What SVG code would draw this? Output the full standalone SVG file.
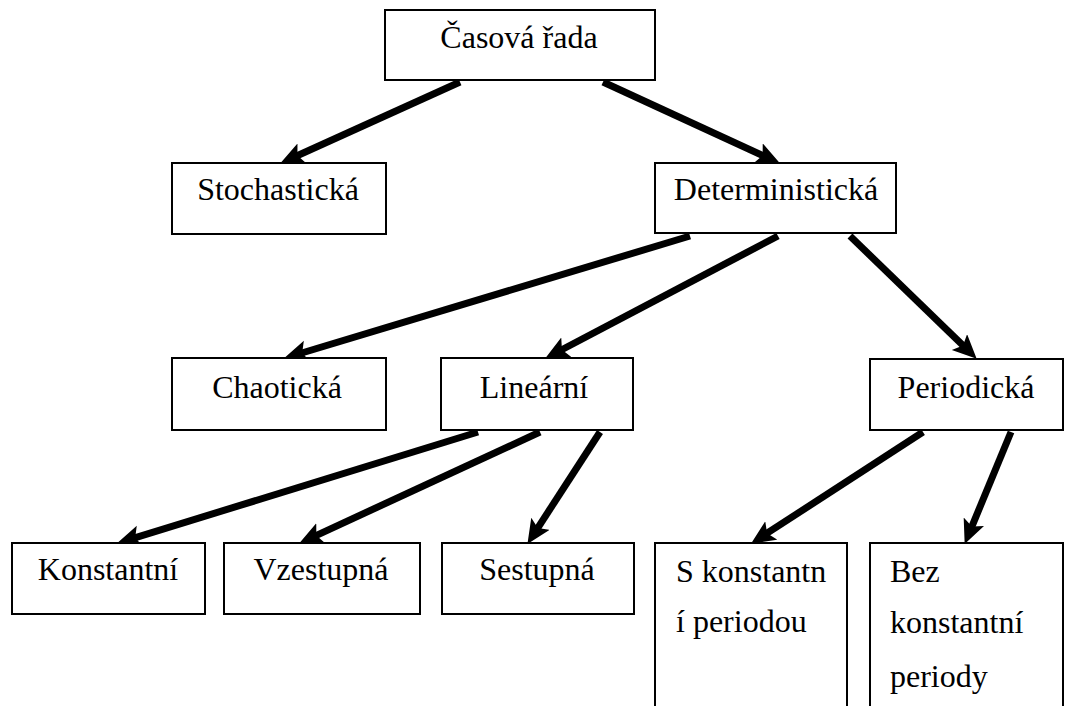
<svg xmlns="http://www.w3.org/2000/svg" width="1066" height="706" viewBox="0 0 1066 706">
<style>
.box{fill:#fff;stroke:#000;stroke-width:2}
.t{font-family:"Liberation Serif","Times New Roman",serif;font-size:32px;fill:#000}
.c{text-anchor:middle}
.a{stroke:#000;stroke-width:7;fill:none;marker-end:url(#ah)}
</style>
<defs>
<marker id="ah" markerUnits="userSpaceOnUse" markerWidth="26" markerHeight="24" refX="9" refY="11" orient="auto">
<path d="M0,0 L24,11 L0,22 L5,11 Z" fill="#000"/>
</marker>
</defs>
<rect width="1066" height="706" fill="#fff"/>
<g id="connectors">
<line class="a" x1="460" y1="82" x2="293.8" y2="157.2"/>
<line class="a" x1="603" y1="82" x2="766.3" y2="157.1"/>
<line class="a" x1="690" y1="236" x2="298.4" y2="354"/>
<line class="a" x1="778" y1="236" x2="558.4" y2="351.5"/>
<line class="a" x1="850" y1="236" x2="965.9" y2="348.3"/>
<line class="a" x1="478" y1="432" x2="131.4" y2="538.9"/>
<line class="a" x1="540" y1="432" x2="312.7" y2="537.1"/>
<line class="a" x1="600" y1="432" x2="535.6" y2="531.3"/>
<line class="a" x1="923" y1="432" x2="763.7" y2="535.4"/>
<line class="a" x1="1011" y1="432" x2="970.4" y2="530.1"/>
</g>
<g id="casova-rada"><rect class="box" x="385" y="10" width="270" height="70"/><text class="t c" x="519" y="48">Časová řada</text></g>
<g id="stochasticka"><rect class="box" x="172" y="163" width="214" height="71"/><text class="t c" x="278" y="200">Stochastická</text></g>
<g id="deterministicka"><rect class="box" x="655" y="163" width="241" height="70"/><text class="t c" x="776" y="200">Deterministická</text></g>
<g id="chaoticka"><rect class="box" x="172" y="358" width="214" height="72"/><text class="t c" x="277" y="398">Chaotická</text></g>
<g id="linearni"><rect class="box" x="441" y="358" width="192" height="72"/><text class="t c" x="534" y="398">Lineární</text></g>
<g id="periodicka"><rect class="box" x="870" y="359" width="193" height="71"/><text class="t c" x="966" y="398">Periodická</text></g>
<g id="konstantni"><rect class="box" x="12" y="543" width="193" height="71"/><text class="t c" x="108" y="580">Konstantní</text></g>
<g id="vzestupna"><rect class="box" x="224" y="543" width="196" height="71"/><text class="t c" x="321" y="580">Vzestupná</text></g>
<g id="sestupna"><rect class="box" x="442" y="543" width="192" height="71"/><text class="t c" x="537" y="580">Sestupná</text></g>
<g id="s-konstantni"><rect class="box" x="655" y="543" width="192" height="180"/><text class="t" x="676" y="582">S konstantn</text><text class="t" x="676" y="632">í periodou</text></g>
<g id="bez-konstantni"><rect class="box" x="870" y="543" width="193" height="180"/><text class="t" x="890" y="582">Bez</text><text class="t" x="890" y="633">konstantní</text><text class="t" x="890" y="687">periody</text></g>
</svg>
